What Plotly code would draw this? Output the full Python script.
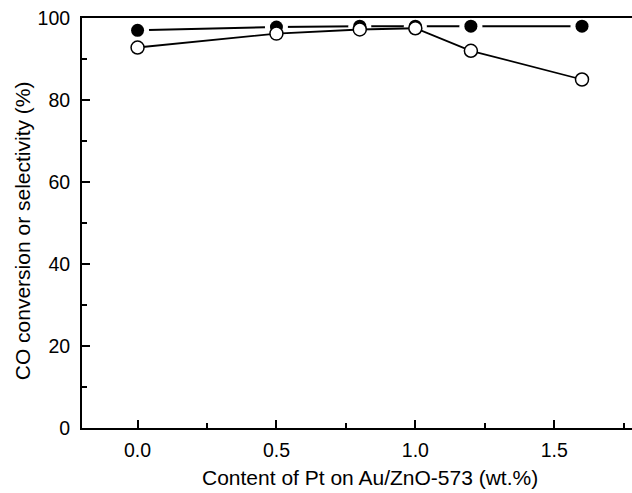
import plotly.graph_objects as go

pt_content = [0.0, 0.5, 0.8, 1.0, 1.2, 1.6]
co_conversion = [97.0, 97.8, 98.0, 98.0, 98.0, 98.0]
co_selectivity = [92.8, 96.2, 97.2, 97.5, 92.0, 85.0]

x_title = "Content of Pt on Au/ZnO-573 (wt.%)"
y_title = "CO conversion or selectivity (%)"

FONT = "Liberation Sans, Arial, Helvetica, sans-serif"

fig = go.Figure()
# filled series: line with gaps around markers
fig.add_trace(go.Scatter(x=pt_content, y=co_conversion, mode="lines",
                         line=dict(color="black", width=2), hoverinfo="skip", showlegend=False))
fig.add_trace(go.Scatter(x=pt_content, y=co_conversion, mode="markers",
                         marker=dict(color="white", size=23, line=dict(width=0)),
                         hoverinfo="skip", showlegend=False))
fig.add_trace(go.Scatter(x=pt_content, y=co_conversion, mode="markers",
                         marker=dict(color="black", size=13, line=dict(width=0)),
                         name="CO conversion", showlegend=False))
# open series
fig.add_trace(go.Scatter(x=pt_content, y=co_selectivity, mode="lines+markers",
                         line=dict(color="black", width=1.8),
                         marker=dict(color="white", size=13, line=dict(color="black", width=1.5)),
                         name="Selectivity", showlegend=False))

fig.update_layout(
    width=632, height=493,
    margin=dict(l=82, r=0, t=18, b=65),
    paper_bgcolor="white", plot_bgcolor="white",
    font=dict(family=FONT, size=19.5, color="black"),
    showlegend=False,
)
fig.update_xaxes(
    range=[-0.2, 1.78], tick0=0, dtick=0.5, tickformat=".1f",
    showline=True, linecolor="black", linewidth=2, mirror=True,
    ticks="inside", ticklen=8, tickwidth=2, tickcolor="black",
    minor=dict(ticks="inside", ticklen=5, tickwidth=2, tickcolor="black", dtick=0.25, tick0=0),
    showgrid=False, zeroline=False,
    tickfont=dict(size=19.5), ticklabelstandoff=4,
)
fig.update_yaxes(
    range=[0, 100], tick0=0, dtick=20,
    showline=True, linecolor="black", linewidth=2, mirror=False,
    ticks="inside", ticklen=8, tickwidth=2, tickcolor="black",
    minor=dict(ticks="inside", ticklen=5, tickwidth=2, tickcolor="black", dtick=10, tick0=0),
    showgrid=False, zeroline=False,
    tickfont=dict(size=19.5), ticklabelstandoff=6,
)
fig.add_annotation(text=x_title, xref="paper", yref="paper", x=0.524, y=-0.12,
                   xanchor="center", yanchor="middle", showarrow=False,
                   font=dict(size=21, family=FONT))
fig.add_annotation(text=y_title, xref="paper", yref="paper", x=-0.109, y=0.48,
                   xanchor="center", yanchor="middle", showarrow=False, textangle=-90,
                   font=dict(size=21, family=FONT))

fig.write_html("out.html")
